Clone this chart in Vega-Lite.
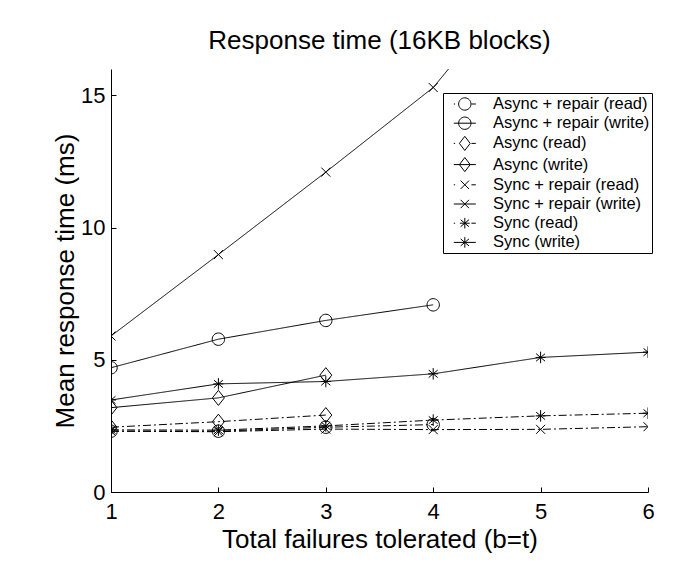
{
  "$schema": "https://vega.github.io/schema/vega-lite/v6.json",
  "width": 537,
  "height": 423,
  "autosize": {"type": "none"},
  "padding": {"left": 111, "top": 69, "right": 52, "bottom": 96},
  "background": "white",
  "title": {"text": "Response time (16KB blocks)", "font": "Liberation Sans", "fontSize": 26, "fontWeight": "normal", "color": "black", "offset": 15, "anchor": "middle"},
  "config": {
    "view": {"stroke": null},
    "axis": {"domainColor": "black", "domainWidth": 1, "tickColor": "black", "tickWidth": 1, "tickSize": -5, "labelFont": "Liberation Sans", "labelFontSize": 22, "labelColor": "black", "titleFont": "Liberation Sans", "titleFontSize": 26, "titleFontWeight": "normal", "titleColor": "black", "grid": false, "labelOverlap": false, "labelFlush": false},
    "legend": {"strokeColor": "black", "fillColor": "white", "padding": 2, "cornerRadius": 0, "labelFont": "Liberation Sans", "labelFontSize": 16.5, "labelColor": "black", "rowPadding": 1.2, "symbolStrokeColor": "black", "symbolStrokeWidth": 1, "symbolFillColor": "transparent", "symbolOpacity": 1, "labelLimit": 400}
  },
  "data": {"values": [
    {"t": 1, "series": "Async + repair (read)", "ms": 2.3},
    {"t": 2, "series": "Async + repair (read)", "ms": 2.3},
    {"t": 3, "series": "Async + repair (read)", "ms": 2.45},
    {"t": 4, "series": "Async + repair (read)", "ms": 2.55},
    {"t": 1, "series": "Async + repair (write)", "ms": 4.7},
    {"t": 2, "series": "Async + repair (write)", "ms": 5.78},
    {"t": 3, "series": "Async + repair (write)", "ms": 6.49},
    {"t": 4, "series": "Async + repair (write)", "ms": 7.08},
    {"t": 1, "series": "Async (read)", "ms": 2.45},
    {"t": 2, "series": "Async (read)", "ms": 2.66},
    {"t": 3, "series": "Async (read)", "ms": 2.91},
    {"t": 1, "series": "Async (write)", "ms": 3.19},
    {"t": 2, "series": "Async (write)", "ms": 3.56},
    {"t": 3, "series": "Async (write)", "ms": 4.42},
    {"t": 1, "series": "Sync + repair (read)", "ms": 2.3},
    {"t": 2, "series": "Sync + repair (read)", "ms": 2.28},
    {"t": 3, "series": "Sync + repair (read)", "ms": 2.38},
    {"t": 4, "series": "Sync + repair (read)", "ms": 2.36},
    {"t": 5, "series": "Sync + repair (read)", "ms": 2.37},
    {"t": 6, "series": "Sync + repair (read)", "ms": 2.47},
    {"t": 1, "series": "Sync + repair (write)", "ms": 5.9},
    {"t": 2, "series": "Sync + repair (write)", "ms": 8.98},
    {"t": 3, "series": "Sync + repair (write)", "ms": 12.1},
    {"t": 4, "series": "Sync + repair (write)", "ms": 15.3},
    {"t": 5, "series": "Sync + repair (write)", "ms": 20.2},
    {"t": 6, "series": "Sync + repair (write)", "ms": 25.0},
    {"t": 1, "series": "Sync (read)", "ms": 2.35},
    {"t": 2, "series": "Sync (read)", "ms": 2.34},
    {"t": 3, "series": "Sync (read)", "ms": 2.5},
    {"t": 4, "series": "Sync (read)", "ms": 2.72},
    {"t": 5, "series": "Sync (read)", "ms": 2.88},
    {"t": 6, "series": "Sync (read)", "ms": 2.98},
    {"t": 1, "series": "Sync (write)", "ms": 3.48},
    {"t": 2, "series": "Sync (write)", "ms": 4.09},
    {"t": 3, "series": "Sync (write)", "ms": 4.18},
    {"t": 4, "series": "Sync (write)", "ms": 4.47},
    {"t": 5, "series": "Sync (write)", "ms": 5.09},
    {"t": 6, "series": "Sync (write)", "ms": 5.29}
  ]},
  "encoding": {
    "x": {"field": "t", "type": "quantitative", "scale": {"domain": [1, 6], "nice": false, "zero": false}, "axis": {"values": [1, 2, 3, 4, 5, 6], "labelPadding": 14, "titlePadding": 4, "title": "Total failures tolerated (b=t)"}},
    "y": {"field": "ms", "type": "quantitative", "scale": {"domain": [0, 16], "nice": false}, "axis": {"values": [0, 5, 10, 15], "labelPadding": 11, "titlePadding": 2, "title": "Mean response time (ms)"}}
  },
  "layer": [
    {
      "mark": {"type": "line", "clip": true, "stroke": "black", "strokeWidth": 1},
      "encoding": {
        "strokeDash": {"field": "series", "type": "nominal", "legend": null,
          "scale": {"domain": ["Async + repair (read)", "Async + repair (write)", "Async (read)", "Async (write)", "Sync + repair (read)", "Sync + repair (write)", "Sync (read)", "Sync (write)"],
            "range": [[8, 3, 2, 3], [1, 0], [8, 3, 2, 3], [1, 0], [8, 3, 2, 3], [1, 0], [8, 3, 2, 3], [1, 0]]}}
      }
    },
    {
      "mark": {"type": "point", "clip": true, "filled": false, "stroke": "black", "strokeWidth": 1, "size": 100, "opacity": 1},
      "encoding": {
        "shape": {"field": "series", "type": "nominal", "legend": null,
          "scale": {"domain": ["Async + repair (read)", "Async + repair (write)", "Async (read)", "Async (write)", "Sync + repair (read)", "Sync + repair (write)", "Sync (read)", "Sync (write)"],
            "range": [
              "M-1.24,0A1.24,1.24 0 1,1 1.24,0A1.24,1.24 0 1,1 -1.24,0Z",
              "M-1.24,0A1.24,1.24 0 1,1 1.24,0A1.24,1.24 0 1,1 -1.24,0Z",
              "M0,-1.5L1.2,0L0,1.5L-1.2,0Z",
              "M0,-1.5L1.2,0L0,1.5L-1.2,0Z",
              "M-0.9,-0.9L0.9,0.9M-0.9,0.9L0.9,-0.9",
              "M-0.9,-0.9L0.9,0.9M-0.9,0.9L0.9,-0.9",
              "M0,-1.15L0,1.15M-0.9,-0.75L0.9,0.75M-0.9,0.75L0.9,-0.75M-1,0L1,0",
              "M0,-1.15L0,1.15M-0.9,-0.75L0.9,0.75M-0.9,0.75L0.9,-0.75M-1,0L1,0"
            ]}}
      }
    },
    {
      "transform": [{"filter": "false"}],
      "mark": {"type": "point", "filled": false, "stroke": "black", "strokeWidth": 1, "size": 289, "opacity": 1},
      "encoding": {
        "shape": {"field": "series", "type": "nominal",
          "scale": {"domain": ["Async + repair (read)", "Async + repair (write)", "Async (read)", "Async (write)", "Sync + repair (read)", "Sync + repair (write)", "Sync (read)", "Sync (write)"],
            "range": [
              "M-0.725,0A0.725,0.725 0 1,1 0.725,0A0.725,0.725 0 1,1 -0.725,0ZM-1.294,0L-1.14,0M0.78,0L1.294,0",
              "M-0.725,0A0.725,0.725 0 1,1 0.725,0A0.725,0.725 0 1,1 -0.725,0ZM-1.294,0L1.294,0",
              "M0,-0.83L0.634,0L0,0.83L-0.634,0ZM-1.294,0L-1.14,0M0.78,0L1.294,0",
              "M0,-0.83L0.634,0L0,0.83L-0.634,0ZM-1.294,0L1.294,0",
              "M-0.49,-0.49L0.49,0.49M-0.49,0.49L0.49,-0.49M-1.294,0L-1.14,0M0.78,0L1.294,0",
              "M-0.49,-0.49L0.49,0.49M-0.49,0.49L0.49,-0.49M-1.294,0L1.294,0",
              "M0,-0.62L0,0.62M-0.49,-0.41L0.49,0.41M-0.49,0.41L0.49,-0.41M-0.58,0L0.58,0M-1.294,0L-1.14,0M0.78,0L1.294,0",
              "M0,-0.62L0,0.62M-0.49,-0.41L0.49,0.41M-0.49,0.41L0.49,-0.41M-1.294,0L1.294,0"
            ]},
          "legend": {"title": null, "orient": "none", "legendX": 332, "legendY": 24, "symbolSize": 289, "symbolOffset": 10.8, "labelOffset": 19.2, "labelExpr": "datum.label + '   '"}}
      }
    }
  ],
  "resolve": {"scale": {"shape": "independent"}}
}
